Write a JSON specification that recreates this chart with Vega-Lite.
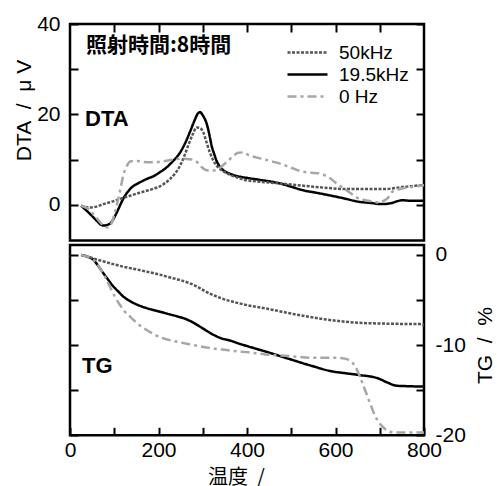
{
  "$schema": "https://vega.github.io/schema/vega-lite/v6.json",
  "padding": {"left": 11, "top": 11, "right": 0, "bottom": 0},
  "config": {
    "font": "Liberation Sans",
    "view": {"stroke": "black", "strokeWidth": 2.5},
    "axis": {
      "domain": false, "grid": false, "tickColor": "black", "tickWidth": 2, "tickSize": 8, "offset": -8, "zindex": 1,
      "labelFont": "Liberation Sans", "labelFontSize": 21, "labelColor": "black",
      "titleFont": "Liberation Sans", "titleFontSize": 21, "titleFontWeight": "normal", "titleColor": "black"
    }
  },
  "spacing": 0,
  "resolve": {"scale": {"color": "independent", "strokeDash": "independent"}},
  "datasets": {
    "dta": [
      {"s": "19.5kHz", "T": 25, "v": -0.2}, {"s": "19.5kHz", "T": 45, "v": -2.0}, {"s": "19.5kHz", "T": 60, "v": -3.5}, {"s": "19.5kHz", "T": 75, "v": -4.6}, {"s": "19.5kHz", "T": 90, "v": -4.2}, {"s": "19.5kHz", "T": 100, "v": -2.8}, {"s": "19.5kHz", "T": 110, "v": -0.8}, {"s": "19.5kHz", "T": 120, "v": 1.3}, {"s": "19.5kHz", "T": 130, "v": 2.8}, {"s": "19.5kHz", "T": 140, "v": 3.9}, {"s": "19.5kHz", "T": 155, "v": 4.8}, {"s": "19.5kHz", "T": 173, "v": 5.7}, {"s": "19.5kHz", "T": 190, "v": 6.4}, {"s": "19.5kHz", "T": 203, "v": 7.2}, {"s": "19.5kHz", "T": 215, "v": 8.0}, {"s": "19.5kHz", "T": 226, "v": 9.0}, {"s": "19.5kHz", "T": 238, "v": 10.2}, {"s": "19.5kHz", "T": 249, "v": 11.6}, {"s": "19.5kHz", "T": 260, "v": 13.6}, {"s": "19.5kHz", "T": 271, "v": 16.1}, {"s": "19.5kHz", "T": 282, "v": 18.8}, {"s": "19.5kHz", "T": 289, "v": 20.2}, {"s": "19.5kHz", "T": 294, "v": 20.5}, {"s": "19.5kHz", "T": 300, "v": 19.8}, {"s": "19.5kHz", "T": 309, "v": 17.9}, {"s": "19.5kHz", "T": 315, "v": 15.5}, {"s": "19.5kHz", "T": 320, "v": 13.1}, {"s": "19.5kHz", "T": 326, "v": 11.2}, {"s": "19.5kHz", "T": 331, "v": 9.8}, {"s": "19.5kHz", "T": 339, "v": 8.4}, {"s": "19.5kHz", "T": 347, "v": 7.6}, {"s": "19.5kHz", "T": 358, "v": 7.0}, {"s": "19.5kHz", "T": 369, "v": 6.6}, {"s": "19.5kHz", "T": 385, "v": 6.2}, {"s": "19.5kHz", "T": 403, "v": 5.9}, {"s": "19.5kHz", "T": 430, "v": 5.5}, {"s": "19.5kHz", "T": 471, "v": 4.8}, {"s": "19.5kHz", "T": 500, "v": 4.0}, {"s": "19.5kHz", "T": 523, "v": 3.3}, {"s": "19.5kHz", "T": 560, "v": 2.6}, {"s": "19.5kHz", "T": 591, "v": 2.0}, {"s": "19.5kHz", "T": 620, "v": 1.4}, {"s": "19.5kHz", "T": 651, "v": 0.7}, {"s": "19.5kHz", "T": 680, "v": 0.4}, {"s": "19.5kHz", "T": 704, "v": 0.15}, {"s": "19.5kHz", "T": 715, "v": 0.2}, {"s": "19.5kHz", "T": 727, "v": 0.4}, {"s": "19.5kHz", "T": 740, "v": 0.8}, {"s": "19.5kHz", "T": 750, "v": 1.0}, {"s": "19.5kHz", "T": 770, "v": 0.9}, {"s": "19.5kHz", "T": 800, "v": 0.9},
      {"s": "50kHz", "T": 25, "v": -0.2}, {"s": "50kHz", "T": 45, "v": -0.6}, {"s": "50kHz", "T": 60, "v": -0.4}, {"s": "50kHz", "T": 75, "v": 0.15}, {"s": "50kHz", "T": 95, "v": 0.7}, {"s": "50kHz", "T": 113, "v": 1.3}, {"s": "50kHz", "T": 136, "v": 2.0}, {"s": "50kHz", "T": 155, "v": 2.6}, {"s": "50kHz", "T": 173, "v": 3.1}, {"s": "50kHz", "T": 190, "v": 3.6}, {"s": "50kHz", "T": 203, "v": 4.1}, {"s": "50kHz", "T": 215, "v": 4.8}, {"s": "50kHz", "T": 226, "v": 5.7}, {"s": "50kHz", "T": 238, "v": 7.0}, {"s": "50kHz", "T": 249, "v": 8.7}, {"s": "50kHz", "T": 258, "v": 10.7}, {"s": "50kHz", "T": 267, "v": 13.1}, {"s": "50kHz", "T": 277, "v": 15.5}, {"s": "50kHz", "T": 286, "v": 17.1}, {"s": "50kHz", "T": 293, "v": 17.0}, {"s": "50kHz", "T": 301, "v": 16.1}, {"s": "50kHz", "T": 308, "v": 14.0}, {"s": "50kHz", "T": 316, "v": 11.6}, {"s": "50kHz", "T": 323, "v": 10.0}, {"s": "50kHz", "T": 331, "v": 8.7}, {"s": "50kHz", "T": 342, "v": 7.7}, {"s": "50kHz", "T": 354, "v": 7.0}, {"s": "50kHz", "T": 365, "v": 6.5}, {"s": "50kHz", "T": 377, "v": 6.1}, {"s": "50kHz", "T": 395, "v": 5.5}, {"s": "50kHz", "T": 430, "v": 5.1}, {"s": "50kHz", "T": 471, "v": 4.75}, {"s": "50kHz", "T": 509, "v": 4.4}, {"s": "50kHz", "T": 550, "v": 4.0}, {"s": "50kHz", "T": 584, "v": 3.7}, {"s": "50kHz", "T": 620, "v": 3.5}, {"s": "50kHz", "T": 660, "v": 3.5}, {"s": "50kHz", "T": 712, "v": 3.5}, {"s": "50kHz", "T": 735, "v": 3.7}, {"s": "50kHz", "T": 757, "v": 4.0}, {"s": "50kHz", "T": 780, "v": 4.2}, {"s": "50kHz", "T": 800, "v": 4.4},
      {"s": "0 Hz", "T": 25, "v": -0.2}, {"s": "0 Hz", "T": 40, "v": -0.8}, {"s": "0 Hz", "T": 53, "v": -2.1}, {"s": "0 Hz", "T": 65, "v": -3.5}, {"s": "0 Hz", "T": 75, "v": -4.6}, {"s": "0 Hz", "T": 86, "v": -5.0}, {"s": "0 Hz", "T": 95, "v": -3.8}, {"s": "0 Hz", "T": 102, "v": -1.5}, {"s": "0 Hz", "T": 109, "v": 1.3}, {"s": "0 Hz", "T": 115, "v": 4.0}, {"s": "0 Hz", "T": 120, "v": 6.4}, {"s": "0 Hz", "T": 128, "v": 8.5}, {"s": "0 Hz", "T": 136, "v": 9.6}, {"s": "0 Hz", "T": 150, "v": 9.7}, {"s": "0 Hz", "T": 166, "v": 9.5}, {"s": "0 Hz", "T": 188, "v": 9.4}, {"s": "0 Hz", "T": 210, "v": 9.6}, {"s": "0 Hz", "T": 226, "v": 9.9}, {"s": "0 Hz", "T": 240, "v": 10.1}, {"s": "0 Hz", "T": 256, "v": 10.2}, {"s": "0 Hz", "T": 270, "v": 10.1}, {"s": "0 Hz", "T": 282, "v": 9.8}, {"s": "0 Hz", "T": 290, "v": 9.2}, {"s": "0 Hz", "T": 298, "v": 8.3}, {"s": "0 Hz", "T": 305, "v": 7.8}, {"s": "0 Hz", "T": 313, "v": 7.6}, {"s": "0 Hz", "T": 325, "v": 7.6}, {"s": "0 Hz", "T": 335, "v": 7.9}, {"s": "0 Hz", "T": 345, "v": 8.7}, {"s": "0 Hz", "T": 358, "v": 9.8}, {"s": "0 Hz", "T": 370, "v": 10.9}, {"s": "0 Hz", "T": 380, "v": 11.5}, {"s": "0 Hz", "T": 392, "v": 11.6}, {"s": "0 Hz", "T": 403, "v": 11.0}, {"s": "0 Hz", "T": 420, "v": 10.5}, {"s": "0 Hz", "T": 441, "v": 10.0}, {"s": "0 Hz", "T": 460, "v": 9.5}, {"s": "0 Hz", "T": 478, "v": 9.0}, {"s": "0 Hz", "T": 500, "v": 8.2}, {"s": "0 Hz", "T": 523, "v": 7.4}, {"s": "0 Hz", "T": 545, "v": 7.1}, {"s": "0 Hz", "T": 561, "v": 7.0}, {"s": "0 Hz", "T": 572, "v": 6.7}, {"s": "0 Hz", "T": 580, "v": 6.3}, {"s": "0 Hz", "T": 590, "v": 5.7}, {"s": "0 Hz", "T": 599, "v": 5.0}, {"s": "0 Hz", "T": 610, "v": 4.2}, {"s": "0 Hz", "T": 621, "v": 3.5}, {"s": "0 Hz", "T": 635, "v": 2.5}, {"s": "0 Hz", "T": 648, "v": 1.6}, {"s": "0 Hz", "T": 660, "v": 1.2}, {"s": "0 Hz", "T": 674, "v": 0.9}, {"s": "0 Hz", "T": 690, "v": 0.6}, {"s": "0 Hz", "T": 697, "v": 0.5}, {"s": "0 Hz", "T": 707, "v": 0.8}, {"s": "0 Hz", "T": 716, "v": 1.3}, {"s": "0 Hz", "T": 722, "v": 2.0}, {"s": "0 Hz", "T": 727, "v": 2.75}, {"s": "0 Hz", "T": 738, "v": 3.3}, {"s": "0 Hz", "T": 750, "v": 3.6}, {"s": "0 Hz", "T": 770, "v": 3.9}, {"s": "0 Hz", "T": 800, "v": 4.3}
    ],
    "tg": [
      {"s": "19.5kHz", "T": 25, "v": 0}, {"s": "19.5kHz", "T": 40, "v": -0.2}, {"s": "19.5kHz", "T": 53, "v": -0.55}, {"s": "19.5kHz", "T": 65, "v": -1.3}, {"s": "19.5kHz", "T": 75, "v": -2.0}, {"s": "19.5kHz", "T": 87, "v": -2.8}, {"s": "19.5kHz", "T": 98, "v": -3.5}, {"s": "19.5kHz", "T": 110, "v": -4.1}, {"s": "19.5kHz", "T": 120, "v": -4.6}, {"s": "19.5kHz", "T": 135, "v": -5.1}, {"s": "19.5kHz", "T": 151, "v": -5.5}, {"s": "19.5kHz", "T": 170, "v": -5.85}, {"s": "19.5kHz", "T": 188, "v": -6.1}, {"s": "19.5kHz", "T": 207, "v": -6.35}, {"s": "19.5kHz", "T": 226, "v": -6.6}, {"s": "19.5kHz", "T": 245, "v": -6.85}, {"s": "19.5kHz", "T": 264, "v": -7.15}, {"s": "19.5kHz", "T": 280, "v": -7.55}, {"s": "19.5kHz", "T": 294, "v": -7.96}, {"s": "19.5kHz", "T": 310, "v": -8.45}, {"s": "19.5kHz", "T": 324, "v": -8.85}, {"s": "19.5kHz", "T": 342, "v": -9.25}, {"s": "19.5kHz", "T": 362, "v": -9.5}, {"s": "19.5kHz", "T": 380, "v": -9.8}, {"s": "19.5kHz", "T": 403, "v": -10.15}, {"s": "19.5kHz", "T": 441, "v": -10.7}, {"s": "19.5kHz", "T": 493, "v": -11.5}, {"s": "19.5kHz", "T": 546, "v": -12.3}, {"s": "19.5kHz", "T": 591, "v": -12.9}, {"s": "19.5kHz", "T": 620, "v": -13.1}, {"s": "19.5kHz", "T": 651, "v": -13.3}, {"s": "19.5kHz", "T": 697, "v": -13.7}, {"s": "19.5kHz", "T": 715, "v": -14.1}, {"s": "19.5kHz", "T": 738, "v": -14.5}, {"s": "19.5kHz", "T": 760, "v": -14.55}, {"s": "19.5kHz", "T": 800, "v": -14.6},
      {"s": "50kHz", "T": 25, "v": 0}, {"s": "50kHz", "T": 50, "v": -0.35}, {"s": "50kHz", "T": 75, "v": -0.7}, {"s": "50kHz", "T": 100, "v": -1.05}, {"s": "50kHz", "T": 120, "v": -1.3}, {"s": "50kHz", "T": 150, "v": -1.6}, {"s": "50kHz", "T": 173, "v": -1.85}, {"s": "50kHz", "T": 200, "v": -2.15}, {"s": "50kHz", "T": 226, "v": -2.5}, {"s": "50kHz", "T": 250, "v": -2.8}, {"s": "50kHz", "T": 271, "v": -3.15}, {"s": "50kHz", "T": 287, "v": -3.5}, {"s": "50kHz", "T": 301, "v": -3.9}, {"s": "50kHz", "T": 316, "v": -4.3}, {"s": "50kHz", "T": 331, "v": -4.6}, {"s": "50kHz", "T": 350, "v": -4.95}, {"s": "50kHz", "T": 369, "v": -5.2}, {"s": "50kHz", "T": 385, "v": -5.4}, {"s": "50kHz", "T": 403, "v": -5.6}, {"s": "50kHz", "T": 449, "v": -6.0}, {"s": "50kHz", "T": 510, "v": -6.6}, {"s": "50kHz", "T": 570, "v": -7.1}, {"s": "50kHz", "T": 621, "v": -7.4}, {"s": "50kHz", "T": 660, "v": -7.55}, {"s": "50kHz", "T": 697, "v": -7.6}, {"s": "50kHz", "T": 750, "v": -7.65}, {"s": "50kHz", "T": 791, "v": -7.67}, {"s": "50kHz", "T": 800, "v": -7.8},
      {"s": "0 Hz", "T": 25, "v": 0}, {"s": "0 Hz", "T": 45, "v": -0.3}, {"s": "0 Hz", "T": 58, "v": -0.8}, {"s": "0 Hz", "T": 68, "v": -1.5}, {"s": "0 Hz", "T": 80, "v": -2.5}, {"s": "0 Hz", "T": 90, "v": -3.5}, {"s": "0 Hz", "T": 101, "v": -4.6}, {"s": "0 Hz", "T": 113, "v": -5.55}, {"s": "0 Hz", "T": 124, "v": -6.3}, {"s": "0 Hz", "T": 136, "v": -6.85}, {"s": "0 Hz", "T": 150, "v": -7.5}, {"s": "0 Hz", "T": 166, "v": -8.1}, {"s": "0 Hz", "T": 184, "v": -8.65}, {"s": "0 Hz", "T": 203, "v": -9.1}, {"s": "0 Hz", "T": 225, "v": -9.45}, {"s": "0 Hz", "T": 249, "v": -9.7}, {"s": "0 Hz", "T": 275, "v": -9.95}, {"s": "0 Hz", "T": 301, "v": -10.2}, {"s": "0 Hz", "T": 327, "v": -10.4}, {"s": "0 Hz", "T": 354, "v": -10.55}, {"s": "0 Hz", "T": 380, "v": -10.7}, {"s": "0 Hz", "T": 403, "v": -10.8}, {"s": "0 Hz", "T": 441, "v": -11.03}, {"s": "0 Hz", "T": 493, "v": -11.2}, {"s": "0 Hz", "T": 546, "v": -11.4}, {"s": "0 Hz", "T": 599, "v": -11.4}, {"s": "0 Hz", "T": 621, "v": -11.5}, {"s": "0 Hz", "T": 630, "v": -11.65}, {"s": "0 Hz", "T": 636, "v": -11.85}, {"s": "0 Hz", "T": 645, "v": -12.4}, {"s": "0 Hz", "T": 651, "v": -13.0}, {"s": "0 Hz", "T": 660, "v": -14.1}, {"s": "0 Hz", "T": 670, "v": -15.4}, {"s": "0 Hz", "T": 680, "v": -16.7}, {"s": "0 Hz", "T": 689, "v": -17.8}, {"s": "0 Hz", "T": 700, "v": -18.7}, {"s": "0 Hz", "T": 712, "v": -19.3}, {"s": "0 Hz", "T": 723, "v": -19.6}, {"s": "0 Hz", "T": 735, "v": -19.7}, {"s": "0 Hz", "T": 800, "v": -19.7}
    ]
  },
  "vconcat": [
    {
      "width": 354, "height": 216.5,
      "resolve": {"axis": {"x": "independent", "y": "independent"}},
      "layer": [
        {
          "data": {"name": "dta"},
          "mark": {"type": "line", "strokeWidth": 2.5, "interpolate": "monotone", "clip": true},
          "encoding": {
            "x": {"field": "T", "type": "quantitative", "scale": {"domain": [0, 800], "nice": false},
                  "axis": {"orient": "top", "values": [100, 200, 300, 400, 500, 600, 700], "labels": false, "title": null}},
            "y": {"field": "v", "type": "quantitative", "scale": {"domain": [-7.9, 40], "nice": false, "zero": false},
                  "axis": {"orient": "left", "values": [0, 10, 20, 30, 40], "labelExpr": "datum.value % 20 == 0 ? datum.label : ''", "labelPadding": 10, "labelFlush": false, "title": "DTA\u00a0\u00a0/\u00a0\u00a0μ\u00a0V", "titleX": -48, "titleY": 86, "titleAlign": "center", "titleBaseline": "alphabetic", "titleAngle": 270}},
            "color": {"field": "s", "type": "nominal", "scale": {"domain": ["50kHz", "19.5kHz", "0 Hz"], "range": ["#555555", "#000000", "#a6a6a6"]},
                      "legend": {"orient": "none", "legendX": 226, "legendY": 17, "title": null, "symbolType": "M-2,0H2", "symbolSize": 400, "symbolStrokeWidth": 2.5, "labelFontSize": 19, "labelFont": "Liberation Sans", "labelColor": "black", "rowPadding": -3, "labelOffset": 20, "padding": 0}},
            "strokeDash": {"field": "s", "type": "nominal", "scale": {"domain": ["50kHz", "19.5kHz", "0 Hz"], "range": [[3, 1.5], [1, 0], [9, 4, 3, 4]]},
                      "legend": {"orient": "none", "legendX": 226, "legendY": 17, "title": null, "symbolType": "M-2,0H2", "symbolSize": 400, "symbolStrokeWidth": 2.5, "labelFontSize": 19, "labelFont": "Liberation Sans", "labelColor": "black", "rowPadding": -3, "labelOffset": 20, "padding": 0}}
          }
        },
        {
          "data": {"values": [{"T": 36, "v": 35.2, "label": "照射時間:8時間"}]},
          "mark": {"type": "text", "align": "left", "baseline": "middle", "font": "Noto Sans CJK JP", "fontWeight": "bold", "fontSize": 21, "color": "black"},
          "encoding": {
            "x": {"field": "T", "type": "quantitative", "scale": {"domain": [0, 800], "nice": false}, "axis": null},
            "y": {"field": "v", "type": "quantitative", "scale": {"domain": [-7.9, 40], "nice": false, "zero": false},
                  "axis": {"orient": "right", "values": [0, 10, 20, 30, 40], "labels": false, "title": null}},
            "text": {"field": "label"}
          }
        },
        {
          "data": {"values": [{"T": 34, "v": 19, "label": "DTA"}]},
          "mark": {"type": "text", "align": "left", "baseline": "middle", "font": "Liberation Sans", "fontWeight": "bold", "fontSize": 22, "color": "black"},
          "encoding": {
            "x": {"field": "T", "type": "quantitative", "scale": {"domain": [0, 800], "nice": false}, "axis": null},
            "y": {"field": "v", "type": "quantitative", "scale": {"domain": [-7.9, 40], "nice": false, "zero": false}, "axis": null},
            "text": {"field": "label"}
          }
        }
      ]
    },
    {
      "width": 354, "height": 190.3,
      "resolve": {"axis": {"x": "independent", "y": "independent"}},
      "layer": [
        {
          "data": {"name": "tg"},
          "mark": {"type": "line", "strokeWidth": 2.5, "interpolate": "monotone", "clip": true},
          "encoding": {
            "x": {"field": "T", "type": "quantitative", "scale": {"domain": [0, 800], "nice": false},
                  "axis": {"orient": "bottom", "values": [0, 100, 200, 300, 400, 500, 600, 700, 800], "labelExpr": "datum.value % 200 == 0 ? datum.label : ''", "labelPadding": 4, "labelFlush": false, "title": "温度\u00a0\u00a0/", "titleFont": "Noto Sans CJK JP", "titleFontSize": 20, "titleX": 166, "titleY": 40, "titleAlign": "center", "titleBaseline": "top"}},
            "y": {"field": "v", "type": "quantitative", "scale": {"domain": [-20, 1.1], "nice": false, "zero": false},
                  "axis": {"orient": "left", "values": [0, -5, -10, -15, -20], "labels": false, "title": null}},
            "color": {"field": "s", "type": "nominal", "scale": {"domain": ["50kHz", "19.5kHz", "0 Hz"], "range": ["#555555", "#000000", "#a6a6a6"]}, "legend": null},
            "strokeDash": {"field": "s", "type": "nominal", "scale": {"domain": ["50kHz", "19.5kHz", "0 Hz"], "range": [[3, 1.5], [1, 0], [9, 4, 3, 4]]}, "legend": null}
          }
        },
        {
          "data": {"values": [{"T": 27, "v": -12.3, "label": "TG"}]},
          "mark": {"type": "text", "align": "left", "baseline": "middle", "font": "Liberation Sans", "fontWeight": "bold", "fontSize": 22, "color": "black"},
          "encoding": {
            "x": {"field": "T", "type": "quantitative", "scale": {"domain": [0, 800], "nice": false}, "axis": null},
            "y": {"field": "v", "type": "quantitative", "scale": {"domain": [-20, 1.1], "nice": false, "zero": false},
                  "axis": {"orient": "right", "values": [0, -5, -10, -15, -20], "labelExpr": "datum.value % 10 == 0 ? '' + datum.value : ''", "labelPadding": 11, "labelFlush": false, "title": "TG\u00a0\u00a0/\u00a0\u00a0%", "titleX": 75, "titleY": 100, "titleAlign": "center", "titleBaseline": "alphabetic", "titleAngle": 270}},
            "text": {"field": "label"}
          }
        }
      ]
    }
  ]
}
